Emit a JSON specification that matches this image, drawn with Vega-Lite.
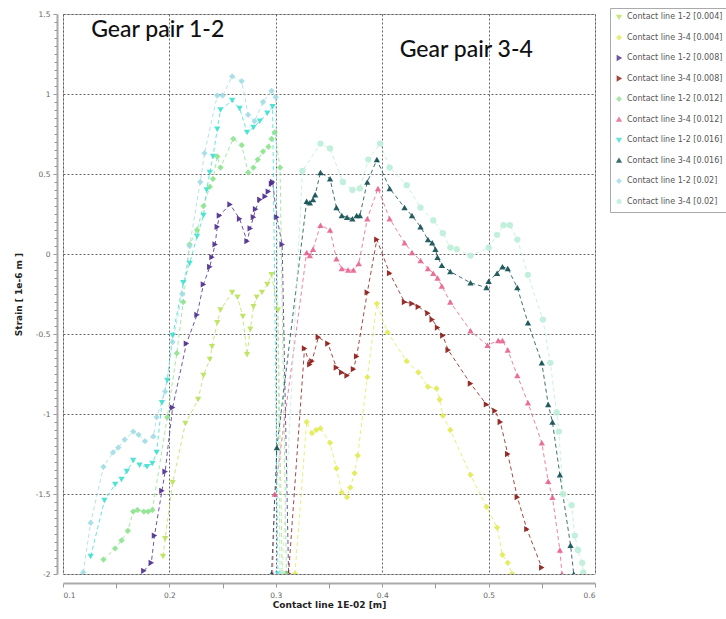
{
"$schema":"https://vega.github.io/schema/vega-lite/v6.json",
"width":532,"height":560,
"autosize":{"type":"none"},
"padding":{"left":63,"top":14,"right":131,"bottom":45},
"config":{"view":{"stroke":"#bbb"},"font":"DejaVu Sans",
 "axis":{"labelFont":"DejaVu Sans","titleFont":"DejaVu Sans","labelColor":"#666","labelFontSize":7.5,"titleFontSize":9,"titleFontWeight":"bold","titleColor":"#222","gridColor":"#555","gridDash":[2,2],"gridOpacity":0.9,"domainColor":"#aaa","domainWidth":2,"tickColor":"#999"},
 "legend":{"orient":"none","legendX":547,"legendY":-6,"strokeColor":"#aaa","padding":5,"labelFontSize":8,"labelColor":"#555","symbolSize":14,"rowPadding":10.5,"labelLimit":200,"labelOffset":4,"labelFont":"DejaVu Sans"}},
"datasets":{
"pts":[
{"s":"Contact line 1-2 [0.004]","x":0.194,"y":-1.89},{"s":"Contact line 1-2 [0.004]","x":0.196,"y":-1.78},{"s":"Contact line 1-2 [0.004]","x":0.203,"y":-1.43},{"s":"Contact line 1-2 [0.004]","x":0.215,"y":-1.06},{"s":"Contact line 1-2 [0.004]","x":0.227,"y":-0.91},{"s":"Contact line 1-2 [0.004]","x":0.232,"y":-0.76},{"s":"Contact line 1-2 [0.004]","x":0.238,"y":-0.66},{"s":"Contact line 1-2 [0.004]","x":0.240,"y":-0.58},{"s":"Contact line 1-2 [0.004]","x":0.245,"y":-0.43},{"s":"Contact line 1-2 [0.004]","x":0.248,"y":-0.35},{"s":"Contact line 1-2 [0.004]","x":0.259,"y":-0.24},{"s":"Contact line 1-2 [0.004]","x":0.264,"y":-0.27},{"s":"Contact line 1-2 [0.004]","x":0.269,"y":-0.39},{"s":"Contact line 1-2 [0.004]","x":0.273,"y":-0.63},{"s":"Contact line 1-2 [0.004]","x":0.276,"y":-0.47},{"s":"Contact line 1-2 [0.004]","x":0.279,"y":-0.33},{"s":"Contact line 1-2 [0.004]","x":0.282,"y":-0.27},{"s":"Contact line 1-2 [0.004]","x":0.287,"y":-0.24},{"s":"Contact line 1-2 [0.004]","x":0.292,"y":-0.19},{"s":"Contact line 1-2 [0.004]","x":0.296,"y":-0.13},{"s":"Contact line 1-2 [0.004]","x":0.302,"y":-0.35},{"s":"Contact line 1-2 [0.004]","x":0.306,"y":-2.0},
{"s":"Contact line 3-4 [0.004]","x":0.318,"y":-2.0},{"s":"Contact line 3-4 [0.004]","x":0.329,"y":-1.05},{"s":"Contact line 3-4 [0.004]","x":0.334,"y":-1.12},{"s":"Contact line 3-4 [0.004]","x":0.338,"y":-1.10},{"s":"Contact line 3-4 [0.004]","x":0.342,"y":-1.09},{"s":"Contact line 3-4 [0.004]","x":0.351,"y":-1.18},{"s":"Contact line 3-4 [0.004]","x":0.357,"y":-1.34},{"s":"Contact line 3-4 [0.004]","x":0.362,"y":-1.49},{"s":"Contact line 3-4 [0.004]","x":0.367,"y":-1.52},{"s":"Contact line 3-4 [0.004]","x":0.370,"y":-1.46},{"s":"Contact line 3-4 [0.004]","x":0.374,"y":-1.37},{"s":"Contact line 3-4 [0.004]","x":0.377,"y":-1.26},{"s":"Contact line 3-4 [0.004]","x":0.386,"y":-0.77},{"s":"Contact line 3-4 [0.004]","x":0.395,"y":-0.31},{"s":"Contact line 3-4 [0.004]","x":0.405,"y":-0.49},{"s":"Contact line 3-4 [0.004]","x":0.423,"y":-0.67},{"s":"Contact line 3-4 [0.004]","x":0.434,"y":-0.74},{"s":"Contact line 3-4 [0.004]","x":0.443,"y":-0.83},{"s":"Contact line 3-4 [0.004]","x":0.451,"y":-0.84},{"s":"Contact line 3-4 [0.004]","x":0.454,"y":-0.91},{"s":"Contact line 3-4 [0.004]","x":0.457,"y":-1.01},{"s":"Contact line 3-4 [0.004]","x":0.464,"y":-1.10},{"s":"Contact line 3-4 [0.004]","x":0.483,"y":-1.38},{"s":"Contact line 3-4 [0.004]","x":0.498,"y":-1.58},{"s":"Contact line 3-4 [0.004]","x":0.508,"y":-1.71},{"s":"Contact line 3-4 [0.004]","x":0.513,"y":-1.88},{"s":"Contact line 3-4 [0.004]","x":0.518,"y":-1.93},{"s":"Contact line 3-4 [0.004]","x":0.522,"y":-2.0},
{"s":"Contact line 1-2 [0.008]","x":0.176,"y":-1.98},{"s":"Contact line 1-2 [0.008]","x":0.183,"y":-1.93},{"s":"Contact line 1-2 [0.008]","x":0.186,"y":-1.76},{"s":"Contact line 1-2 [0.008]","x":0.193,"y":-1.48},{"s":"Contact line 1-2 [0.008]","x":0.196,"y":-1.36},{"s":"Contact line 1-2 [0.008]","x":0.203,"y":-0.96},{"s":"Contact line 1-2 [0.008]","x":0.216,"y":-0.56},{"s":"Contact line 1-2 [0.008]","x":0.226,"y":-0.38},{"s":"Contact line 1-2 [0.008]","x":0.232,"y":-0.19},{"s":"Contact line 1-2 [0.008]","x":0.238,"y":-0.08},{"s":"Contact line 1-2 [0.008]","x":0.240,"y":-0.02},{"s":"Contact line 1-2 [0.008]","x":0.243,"y":0.06},{"s":"Contact line 1-2 [0.008]","x":0.245,"y":0.17},{"s":"Contact line 1-2 [0.008]","x":0.247,"y":0.24},{"s":"Contact line 1-2 [0.008]","x":0.257,"y":0.31},{"s":"Contact line 1-2 [0.008]","x":0.266,"y":0.22},{"s":"Contact line 1-2 [0.008]","x":0.273,"y":0.08},{"s":"Contact line 1-2 [0.008]","x":0.276,"y":0.16},{"s":"Contact line 1-2 [0.008]","x":0.279,"y":0.23},{"s":"Contact line 1-2 [0.008]","x":0.281,"y":0.28},{"s":"Contact line 1-2 [0.008]","x":0.285,"y":0.34},{"s":"Contact line 1-2 [0.008]","x":0.290,"y":0.36},{"s":"Contact line 1-2 [0.008]","x":0.293,"y":0.39},{"s":"Contact line 1-2 [0.008]","x":0.296,"y":0.44},{"s":"Contact line 1-2 [0.008]","x":0.297,"y":0.45},{"s":"Contact line 1-2 [0.008]","x":0.301,"y":0.23},{"s":"Contact line 1-2 [0.008]","x":0.306,"y":0.06},{"s":"Contact line 1-2 [0.008]","x":0.312,"y":-2.0},
{"s":"Contact line 3-4 [0.008]","x":0.312,"y":-2.0},{"s":"Contact line 3-4 [0.008]","x":0.327,"y":-0.59},{"s":"Contact line 3-4 [0.008]","x":0.332,"y":-0.69},{"s":"Contact line 3-4 [0.008]","x":0.334,"y":-0.67},{"s":"Contact line 3-4 [0.008]","x":0.340,"y":-0.52},{"s":"Contact line 3-4 [0.008]","x":0.349,"y":-0.56},{"s":"Contact line 3-4 [0.008]","x":0.357,"y":-0.71},{"s":"Contact line 3-4 [0.008]","x":0.362,"y":-0.74},{"s":"Contact line 3-4 [0.008]","x":0.367,"y":-0.76},{"s":"Contact line 3-4 [0.008]","x":0.373,"y":-0.72},{"s":"Contact line 3-4 [0.008]","x":0.376,"y":-0.64},{"s":"Contact line 3-4 [0.008]","x":0.386,"y":-0.24},{"s":"Contact line 3-4 [0.008]","x":0.395,"y":0.09},{"s":"Contact line 3-4 [0.008]","x":0.407,"y":-0.12},{"s":"Contact line 3-4 [0.008]","x":0.421,"y":-0.30},{"s":"Contact line 3-4 [0.008]","x":0.428,"y":-0.31},{"s":"Contact line 3-4 [0.008]","x":0.434,"y":-0.33},{"s":"Contact line 3-4 [0.008]","x":0.443,"y":-0.37},{"s":"Contact line 3-4 [0.008]","x":0.447,"y":-0.41},{"s":"Contact line 3-4 [0.008]","x":0.452,"y":-0.46},{"s":"Contact line 3-4 [0.008]","x":0.457,"y":-0.51},{"s":"Contact line 3-4 [0.008]","x":0.462,"y":-0.60},{"s":"Contact line 3-4 [0.008]","x":0.483,"y":-0.81},{"s":"Contact line 3-4 [0.008]","x":0.498,"y":-0.94},{"s":"Contact line 3-4 [0.008]","x":0.506,"y":-0.98},{"s":"Contact line 3-4 [0.008]","x":0.511,"y":-1.05},{"s":"Contact line 3-4 [0.008]","x":0.518,"y":-1.25},{"s":"Contact line 3-4 [0.008]","x":0.527,"y":-1.52},{"s":"Contact line 3-4 [0.008]","x":0.536,"y":-1.72},{"s":"Contact line 3-4 [0.008]","x":0.550,"y":-1.96},
{"s":"Contact line 1-2 [0.012]","x":0.138,"y":-1.91},{"s":"Contact line 1-2 [0.012]","x":0.149,"y":-1.84},{"s":"Contact line 1-2 [0.012]","x":0.155,"y":-1.79},{"s":"Contact line 1-2 [0.012]","x":0.161,"y":-1.73},{"s":"Contact line 1-2 [0.012]","x":0.166,"y":-1.61},{"s":"Contact line 1-2 [0.012]","x":0.170,"y":-1.60},{"s":"Contact line 1-2 [0.012]","x":0.176,"y":-1.61},{"s":"Contact line 1-2 [0.012]","x":0.180,"y":-1.61},{"s":"Contact line 1-2 [0.012]","x":0.184,"y":-1.60},{"s":"Contact line 1-2 [0.012]","x":0.198,"y":-1.02},{"s":"Contact line 1-2 [0.012]","x":0.207,"y":-0.62},{"s":"Contact line 1-2 [0.012]","x":0.213,"y":-0.30},{"s":"Contact line 1-2 [0.012]","x":0.219,"y":0.06},{"s":"Contact line 1-2 [0.012]","x":0.226,"y":0.15},{"s":"Contact line 1-2 [0.012]","x":0.232,"y":0.30},{"s":"Contact line 1-2 [0.012]","x":0.238,"y":0.42},{"s":"Contact line 1-2 [0.012]","x":0.241,"y":0.47},{"s":"Contact line 1-2 [0.012]","x":0.245,"y":0.61},{"s":"Contact line 1-2 [0.012]","x":0.248,"y":0.54},{"s":"Contact line 1-2 [0.012]","x":0.260,"y":0.72},{"s":"Contact line 1-2 [0.012]","x":0.268,"y":0.68},{"s":"Contact line 1-2 [0.012]","x":0.274,"y":0.51},{"s":"Contact line 1-2 [0.012]","x":0.279,"y":0.54},{"s":"Contact line 1-2 [0.012]","x":0.283,"y":0.59},{"s":"Contact line 1-2 [0.012]","x":0.288,"y":0.64},{"s":"Contact line 1-2 [0.012]","x":0.293,"y":0.67},{"s":"Contact line 1-2 [0.012]","x":0.296,"y":0.72},{"s":"Contact line 1-2 [0.012]","x":0.299,"y":0.76},{"s":"Contact line 1-2 [0.012]","x":0.304,"y":0.54},{"s":"Contact line 1-2 [0.012]","x":0.310,"y":-2.0},
{"s":"Contact line 3-4 [0.012]","x":0.297,"y":-2.0},{"s":"Contact line 3-4 [0.012]","x":0.299,"y":-1.50},{"s":"Contact line 3-4 [0.012]","x":0.329,"y":0.01},{"s":"Contact line 3-4 [0.012]","x":0.332,"y":-0.01},{"s":"Contact line 3-4 [0.012]","x":0.335,"y":0.03},{"s":"Contact line 3-4 [0.012]","x":0.342,"y":0.18},{"s":"Contact line 3-4 [0.012]","x":0.351,"y":0.15},{"s":"Contact line 3-4 [0.012]","x":0.357,"y":-0.03},{"s":"Contact line 3-4 [0.012]","x":0.362,"y":-0.09},{"s":"Contact line 3-4 [0.012]","x":0.368,"y":-0.10},{"s":"Contact line 3-4 [0.012]","x":0.373,"y":-0.10},{"s":"Contact line 3-4 [0.012]","x":0.378,"y":-0.06},{"s":"Contact line 3-4 [0.012]","x":0.386,"y":0.22},{"s":"Contact line 3-4 [0.012]","x":0.396,"y":0.41},{"s":"Contact line 3-4 [0.012]","x":0.407,"y":0.22},{"s":"Contact line 3-4 [0.012]","x":0.421,"y":0.07},{"s":"Contact line 3-4 [0.012]","x":0.428,"y":0.01},{"s":"Contact line 3-4 [0.012]","x":0.436,"y":-0.04},{"s":"Contact line 3-4 [0.012]","x":0.443,"y":-0.09},{"s":"Contact line 3-4 [0.012]","x":0.448,"y":-0.12},{"s":"Contact line 3-4 [0.012]","x":0.452,"y":-0.15},{"s":"Contact line 3-4 [0.012]","x":0.456,"y":-0.20},{"s":"Contact line 3-4 [0.012]","x":0.464,"y":-0.30},{"s":"Contact line 3-4 [0.012]","x":0.483,"y":-0.48},{"s":"Contact line 3-4 [0.012]","x":0.499,"y":-0.57},{"s":"Contact line 3-4 [0.012]","x":0.509,"y":-0.54},{"s":"Contact line 3-4 [0.012]","x":0.513,"y":-0.54},{"s":"Contact line 3-4 [0.012]","x":0.518,"y":-0.60},{"s":"Contact line 3-4 [0.012]","x":0.527,"y":-0.76},{"s":"Contact line 3-4 [0.012]","x":0.537,"y":-0.93},{"s":"Contact line 3-4 [0.012]","x":0.550,"y":-1.18},{"s":"Contact line 3-4 [0.012]","x":0.556,"y":-1.42},{"s":"Contact line 3-4 [0.012]","x":0.560,"y":-1.52},{"s":"Contact line 3-4 [0.012]","x":0.567,"y":-1.85},{"s":"Contact line 3-4 [0.012]","x":0.569,"y":-2.0},
{"s":"Contact line 1-2 [0.016]","x":0.126,"y":-1.89},{"s":"Contact line 1-2 [0.016]","x":0.139,"y":-1.54},{"s":"Contact line 1-2 [0.016]","x":0.149,"y":-1.44},{"s":"Contact line 1-2 [0.016]","x":0.155,"y":-1.41},{"s":"Contact line 1-2 [0.016]","x":0.160,"y":-1.36},{"s":"Contact line 1-2 [0.016]","x":0.166,"y":-1.29},{"s":"Contact line 1-2 [0.016]","x":0.172,"y":-1.32},{"s":"Contact line 1-2 [0.016]","x":0.179,"y":-1.33},{"s":"Contact line 1-2 [0.016]","x":0.184,"y":-1.31},{"s":"Contact line 1-2 [0.016]","x":0.188,"y":-1.24},{"s":"Contact line 1-2 [0.016]","x":0.193,"y":-0.93},{"s":"Contact line 1-2 [0.016]","x":0.198,"y":-0.79},{"s":"Contact line 1-2 [0.016]","x":0.203,"y":-0.51},{"s":"Contact line 1-2 [0.016]","x":0.213,"y":-0.18},{"s":"Contact line 1-2 [0.016]","x":0.219,"y":-0.06},{"s":"Contact line 1-2 [0.016]","x":0.226,"y":0.11},{"s":"Contact line 1-2 [0.016]","x":0.232,"y":0.24},{"s":"Contact line 1-2 [0.016]","x":0.235,"y":0.40},{"s":"Contact line 1-2 [0.016]","x":0.238,"y":0.51},{"s":"Contact line 1-2 [0.016]","x":0.241,"y":0.61},{"s":"Contact line 1-2 [0.016]","x":0.245,"y":0.78},{"s":"Contact line 1-2 [0.016]","x":0.248,"y":0.90},{"s":"Contact line 1-2 [0.016]","x":0.259,"y":0.96},{"s":"Contact line 1-2 [0.016]","x":0.266,"y":0.91},{"s":"Contact line 1-2 [0.016]","x":0.273,"y":0.76},{"s":"Contact line 1-2 [0.016]","x":0.279,"y":0.79},{"s":"Contact line 1-2 [0.016]","x":0.285,"y":0.83},{"s":"Contact line 1-2 [0.016]","x":0.292,"y":0.88},{"s":"Contact line 1-2 [0.016]","x":0.297,"y":0.92},{"s":"Contact line 1-2 [0.016]","x":0.302,"y":-2.0},
{"s":"Contact line 3-4 [0.016]","x":0.296,"y":-2.0},{"s":"Contact line 3-4 [0.016]","x":0.301,"y":-1.21},{"s":"Contact line 3-4 [0.016]","x":0.329,"y":0.33},{"s":"Contact line 3-4 [0.016]","x":0.332,"y":0.32},{"s":"Contact line 3-4 [0.016]","x":0.335,"y":0.34},{"s":"Contact line 3-4 [0.016]","x":0.337,"y":0.37},{"s":"Contact line 3-4 [0.016]","x":0.342,"y":0.51},{"s":"Contact line 3-4 [0.016]","x":0.351,"y":0.47},{"s":"Contact line 3-4 [0.016]","x":0.357,"y":0.29},{"s":"Contact line 3-4 [0.016]","x":0.362,"y":0.24},{"s":"Contact line 3-4 [0.016]","x":0.367,"y":0.23},{"s":"Contact line 3-4 [0.016]","x":0.372,"y":0.22},{"s":"Contact line 3-4 [0.016]","x":0.376,"y":0.24},{"s":"Contact line 3-4 [0.016]","x":0.379,"y":0.24},{"s":"Contact line 3-4 [0.016]","x":0.386,"y":0.45},{"s":"Contact line 3-4 [0.016]","x":0.395,"y":0.59},{"s":"Contact line 3-4 [0.016]","x":0.407,"y":0.41},{"s":"Contact line 3-4 [0.016]","x":0.421,"y":0.29},{"s":"Contact line 3-4 [0.016]","x":0.428,"y":0.24},{"s":"Contact line 3-4 [0.016]","x":0.436,"y":0.17},{"s":"Contact line 3-4 [0.016]","x":0.443,"y":0.09},{"s":"Contact line 3-4 [0.016]","x":0.447,"y":0.07},{"s":"Contact line 3-4 [0.016]","x":0.450,"y":0.03},{"s":"Contact line 3-4 [0.016]","x":0.452,"y":-0.02},{"s":"Contact line 3-4 [0.016]","x":0.456,"y":-0.07},{"s":"Contact line 3-4 [0.016]","x":0.464,"y":-0.11},{"s":"Contact line 3-4 [0.016]","x":0.483,"y":-0.18},{"s":"Contact line 3-4 [0.016]","x":0.498,"y":-0.21},{"s":"Contact line 3-4 [0.016]","x":0.500,"y":-0.17},{"s":"Contact line 3-4 [0.016]","x":0.508,"y":-0.12},{"s":"Contact line 3-4 [0.016]","x":0.513,"y":-0.08},{"s":"Contact line 3-4 [0.016]","x":0.518,"y":-0.09},{"s":"Contact line 3-4 [0.016]","x":0.527,"y":-0.21},{"s":"Contact line 3-4 [0.016]","x":0.537,"y":-0.43},{"s":"Contact line 3-4 [0.016]","x":0.550,"y":-0.68},{"s":"Contact line 3-4 [0.016]","x":0.556,"y":-0.94},{"s":"Contact line 3-4 [0.016]","x":0.560,"y":-1.05},{"s":"Contact line 3-4 [0.016]","x":0.567,"y":-1.38},{"s":"Contact line 3-4 [0.016]","x":0.577,"y":-1.82},{"s":"Contact line 3-4 [0.016]","x":0.580,"y":-2.0},
{"s":"Contact line 1-2 [0.02]","x":0.119,"y":-1.99},{"s":"Contact line 1-2 [0.02]","x":0.126,"y":-1.68},{"s":"Contact line 1-2 [0.02]","x":0.138,"y":-1.33},{"s":"Contact line 1-2 [0.02]","x":0.147,"y":-1.24},{"s":"Contact line 1-2 [0.02]","x":0.152,"y":-1.21},{"s":"Contact line 1-2 [0.02]","x":0.158,"y":-1.16},{"s":"Contact line 1-2 [0.02]","x":0.166,"y":-1.11},{"s":"Contact line 1-2 [0.02]","x":0.171,"y":-1.13},{"s":"Contact line 1-2 [0.02]","x":0.177,"y":-1.17},{"s":"Contact line 1-2 [0.02]","x":0.185,"y":-1.14},{"s":"Contact line 1-2 [0.02]","x":0.188,"y":-1.02},{"s":"Contact line 1-2 [0.02]","x":0.196,"y":-0.86},{"s":"Contact line 1-2 [0.02]","x":0.203,"y":-0.55},{"s":"Contact line 1-2 [0.02]","x":0.212,"y":-0.25},{"s":"Contact line 1-2 [0.02]","x":0.219,"y":0.05},{"s":"Contact line 1-2 [0.02]","x":0.229,"y":0.45},{"s":"Contact line 1-2 [0.02]","x":0.233,"y":0.63},{"s":"Contact line 1-2 [0.02]","x":0.245,"y":0.99},{"s":"Contact line 1-2 [0.02]","x":0.250,"y":0.99},{"s":"Contact line 1-2 [0.02]","x":0.259,"y":1.11},{"s":"Contact line 1-2 [0.02]","x":0.268,"y":1.08},{"s":"Contact line 1-2 [0.02]","x":0.274,"y":0.87},{"s":"Contact line 1-2 [0.02]","x":0.280,"y":0.83},{"s":"Contact line 1-2 [0.02]","x":0.288,"y":0.95},{"s":"Contact line 1-2 [0.02]","x":0.296,"y":1.02},{"s":"Contact line 1-2 [0.02]","x":0.300,"y":0.98},{"s":"Contact line 1-2 [0.02]","x":0.304,"y":-2.0},
{"s":"Contact line 3-4 [0.02]","x":0.306,"y":-2.0},{"s":"Contact line 3-4 [0.02]","x":0.325,"y":0.52},{"s":"Contact line 3-4 [0.02]","x":0.342,"y":0.69},{"s":"Contact line 3-4 [0.02]","x":0.351,"y":0.66},{"s":"Contact line 3-4 [0.02]","x":0.363,"y":0.45},{"s":"Contact line 3-4 [0.02]","x":0.372,"y":0.40},{"s":"Contact line 3-4 [0.02]","x":0.379,"y":0.41},{"s":"Contact line 3-4 [0.02]","x":0.387,"y":0.59},{"s":"Contact line 3-4 [0.02]","x":0.398,"y":0.69},{"s":"Contact line 3-4 [0.02]","x":0.407,"y":0.54},{"s":"Contact line 3-4 [0.02]","x":0.423,"y":0.43},{"s":"Contact line 3-4 [0.02]","x":0.436,"y":0.29},{"s":"Contact line 3-4 [0.02]","x":0.448,"y":0.21},{"s":"Contact line 3-4 [0.02]","x":0.457,"y":0.13},{"s":"Contact line 3-4 [0.02]","x":0.464,"y":0.04},{"s":"Contact line 3-4 [0.02]","x":0.470,"y":0.03},{"s":"Contact line 3-4 [0.02]","x":0.483,"y":-0.01},{"s":"Contact line 3-4 [0.02]","x":0.500,"y":0.04},{"s":"Contact line 3-4 [0.02]","x":0.508,"y":0.12},{"s":"Contact line 3-4 [0.02]","x":0.514,"y":0.18},{"s":"Contact line 3-4 [0.02]","x":0.520,"y":0.18},{"s":"Contact line 3-4 [0.02]","x":0.527,"y":0.09},{"s":"Contact line 3-4 [0.02]","x":0.537,"y":-0.13},{"s":"Contact line 3-4 [0.02]","x":0.551,"y":-0.41},{"s":"Contact line 3-4 [0.02]","x":0.558,"y":-0.68},{"s":"Contact line 3-4 [0.02]","x":0.564,"y":-0.99},{"s":"Contact line 3-4 [0.02]","x":0.566,"y":-1.11},{"s":"Contact line 3-4 [0.02]","x":0.570,"y":-1.50},{"s":"Contact line 3-4 [0.02]","x":0.578,"y":-1.57},{"s":"Contact line 3-4 [0.02]","x":0.581,"y":-1.76},{"s":"Contact line 3-4 [0.02]","x":0.584,"y":-1.85},{"s":"Contact line 3-4 [0.02]","x":0.588,"y":-1.93},{"s":"Contact line 3-4 [0.02]","x":0.589,"y":-1.99}
],
"notes":[{"t":"Gear pair 1-2","x":0.189,"y":1.4},{"t":"Gear pair 3-4","x":0.479,"y":1.275}]
},
"resolve":{"axis":{"x":"independent","y":"independent"}},
"layer":[
{"data":{"name":"pts"},
 "mark":{"type":"line","strokeDash":[4,3],"strokeWidth":1,"opacity":0.8,"clip":true},
 "encoding":{
  "x":{"field":"x","type":"quantitative","scale":{"domain":[0.1,0.6],"nice":false,"zero":false},
   "axis":{"values":[0.1,0.2,0.3,0.4,0.5,0.6],"labelExpr":"''+datum.value","title":"Contact line 1E-02 [m]","grid":true,"offset":9,"tickSize":4,"labelPadding":4,"titlePadding":2}},
  "y":{"field":"y","type":"quantitative","scale":{"domain":[-2,1.5],"nice":false,"zero":false},
   "axis":{"values":[-2,-1.5,-1,-0.5,0,0.5,1,1.5],"labelExpr":"''+datum.value","title":"Strain  [ 1e-6 m ]","grid":true,"offset":6,"tickSize":4,"labelPadding":3,"titlePadding":12}},
  "color":{"field":"s","type":"nominal","title":null,
   "scale":{"domain":["Contact line 1-2 [0.004]","Contact line 3-4 [0.004]","Contact line 1-2 [0.008]","Contact line 3-4 [0.008]","Contact line 1-2 [0.012]","Contact line 3-4 [0.012]","Contact line 1-2 [0.016]","Contact line 3-4 [0.016]","Contact line 1-2 [0.02]","Contact line 3-4 [0.02]"],
   "range":["#b9e25a","#e2ea55","#4b2a8c","#8c1a14","#8de38e","#e8628e","#3fe0cf","#0e4c50","#a2dbe4","#bdeed8"]}},
  "detail":{"field":"s"}}},
{"data":{"name":"pts"},
 "mark":{"type":"point","filled":true,"size":40,"opacity":0.9,"clip":true},
 "encoding":{
  "x":{"field":"x","type":"quantitative","axis":null},
  "y":{"field":"y","type":"quantitative","axis":null},
  "color":{"field":"s","type":"nominal","title":null},
  "shape":{"field":"s","type":"nominal","title":null,
   "scale":{"domain":["Contact line 1-2 [0.004]","Contact line 3-4 [0.004]","Contact line 1-2 [0.008]","Contact line 3-4 [0.008]","Contact line 1-2 [0.012]","Contact line 3-4 [0.012]","Contact line 1-2 [0.016]","Contact line 3-4 [0.016]","Contact line 1-2 [0.02]","Contact line 3-4 [0.02]"],
   "range":["triangle-down","diamond","triangle-right","triangle-right","diamond","triangle-up","triangle-down","triangle-up","diamond","circle"]}}}},
{"data":{"name":"notes"},
 "mark":{"type":"text","font":"Lato","fontSize":23,"fontWeight":500,"color":"#111"},
 "encoding":{
  "x":{"field":"x","type":"quantitative",
   "axis":{"orient":"bottom","values":[0.15,0.25,0.35,0.45,0.55],"labels":false,"grid":false,"domain":false,"title":null,"offset":9,"tickSize":5}},
  "y":{"field":"y","type":"quantitative",
   "axis":{"orient":"left","values":[-1.95,-1.9,-1.85,-1.8,-1.75,-1.7,-1.65,-1.6,-1.55,-1.45,-1.4,-1.35,-1.3,-1.25,-1.2,-1.15,-1.1,-1.05,-0.95,-0.9,-0.85,-0.8,-0.75,-0.7,-0.65,-0.6,-0.55,-0.45,-0.4,-0.35,-0.3,-0.25,-0.2,-0.15,-0.1,-0.05,0.05,0.1,0.15,0.2,0.25,0.3,0.35,0.4,0.45,0.55,0.6,0.65,0.7,0.75,0.8,0.85,0.9,0.95,1.05,1.1,1.15,1.2,1.25,1.3,1.35,1.4,1.45],"labels":false,"grid":false,"domain":false,"title":null,"offset":6,"tickSize":3}},
  "text":{"field":"t"}}}
]
}
